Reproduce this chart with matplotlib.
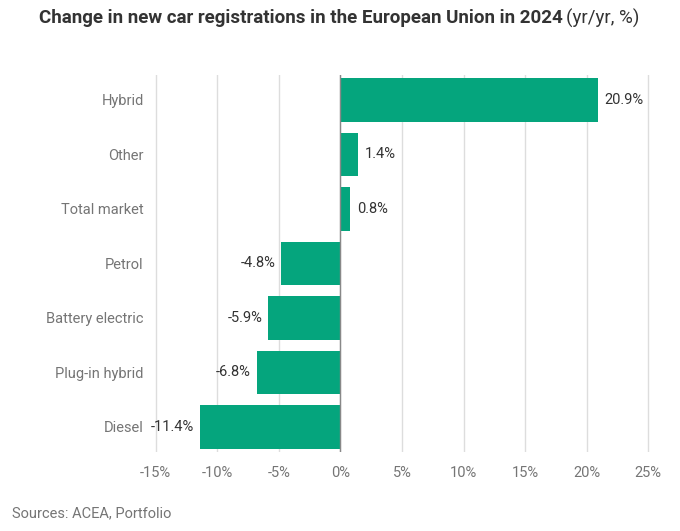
import matplotlib.pyplot as plt
import matplotlib.ticker as mticker

plt.rcParams['font.family'] = ['Roboto', 'DejaVu Sans']

# data
categories = ['Hybrid', 'Other', 'Total market', 'Petrol', 'Battery electric', 'Plug-in hybrid', 'Diesel']
changes = [20.9, 1.4, 0.8, -4.8, -5.9, -6.8, -11.4]
xticks = [-15, -10, -5, 0, 5, 10, 15, 20, 25]

bar_color = '#05a57d'
text_dark = '#333333'
text_grey = '#757575'

fig = plt.figure(figsize=(6.8, 5.31), dpi=100)
ax = fig.add_axes([0.2235, 0.149, 0.7354, 0.71])

ypos = list(range(len(categories)))
ax.barh(ypos, changes, height=0.8, color=bar_color, zorder=3)
ax.set_ylim(len(categories) - 0.54, -0.46)
ax.set_xlim(-15.3, 25.3)

ax.set_yticks(ypos)
ax.set_yticklabels(categories, fontsize=10.5, color=text_grey)
ax.set_xticks(xticks)
ax.xaxis.set_major_formatter(mticker.FuncFormatter(lambda v, p: '{:.0f}%'.format(v)))
ax.tick_params(axis='x', labelsize=10.5, labelcolor=text_grey, length=0, pad=10)
ax.tick_params(axis='y', length=0, pad=6)

ax.grid(axis='x', color='#dddddd', linewidth=1, zorder=0)
ax.axvline(0, color='#888888', linewidth=1, zorder=4)
for s in ax.spines.values():
    s.set_visible(False)

# value labels
for y, v in zip(ypos, changes):
    lbl = '{:.1f}%'.format(v)
    if v >= 0:
        ax.annotate(lbl, (v, y), xytext=(5, 0), textcoords='offset points',
                    ha='left', va='center', fontsize=10.5, color=text_dark)
    else:
        ax.annotate(lbl, (v, y), xytext=(-4, 0), textcoords='offset points',
                    ha='right', va='center', fontsize=10.5, color=text_dark)

# title in two parts
t1 = fig.text(0.058, 0.966, 'Change in new car registrations in the European Union in 2024',
              fontsize=13.5, fontweight='bold', color=text_dark, ha='left', va='center')
fig.canvas.draw()
bb = t1.get_window_extent()
fig.text(bb.x1 / fig.bbox.width + 0.004, 0.966, '(yr/yr, %)', fontsize=13.5,
         color=text_dark, ha='left', va='center')

fig.text(0.018, 0.034, 'Sources: ACEA, Portfolio', fontsize=10.5, color=text_grey,
         ha='left', va='center')

fig.savefig('out.png', dpi=100)
